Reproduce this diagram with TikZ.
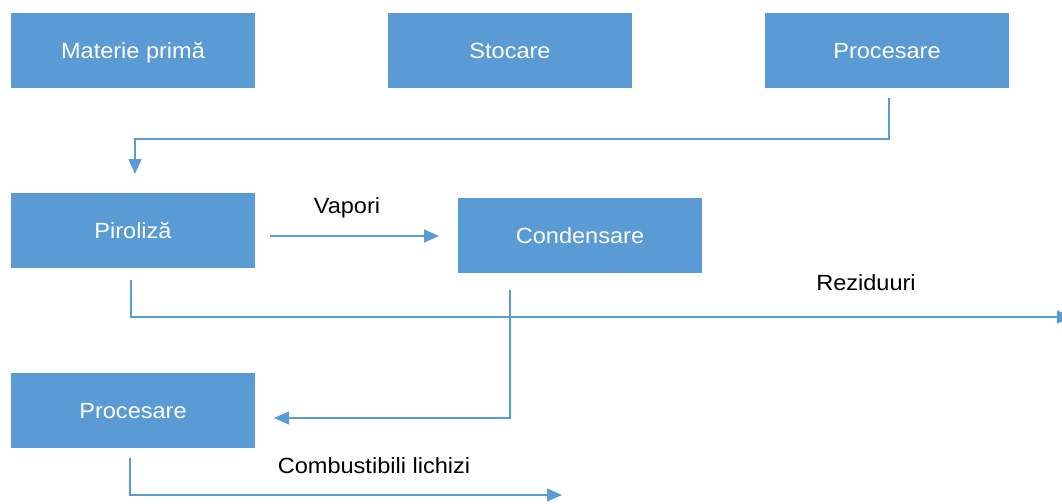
\documentclass[tikz,border=0pt]{standalone}
\usepackage{fontspec}
\setmainfont{Liberation Sans}[FakeStretch=1.07]
\usetikzlibrary{arrows.meta}
\definecolor{boxblue}{HTML}{5B9BD5}
\tikzset{
  box/.style={fill=boxblue, draw=none, minimum width=244pt, minimum height=75pt, inner sep=0pt, text height=16pt, text depth=0pt, text=white, font=\fontsize{22}{26}\selectfont},
  lbl/.style={text=black, inner sep=0pt, text height=16pt, text depth=0pt, font=\fontsize{22}{26}\selectfont},
  conn/.style={draw=boxblue, line width=1.5pt, -{Triangle[length=15pt,width=13pt]}},
}
\begin{document}
\begin{tikzpicture}[x=1pt,y=-1pt]
\useasboundingbox (0,0) rectangle (1062,503);
\clip (0,0) rectangle (1062,503);
\node[box] (mp) at (133,50.5) {Materie primă};
\node[box] (st) at (510,50.5) {Stocare};
\node[box] (pr1) at (887,50.5) {Procesare};
\node[box] (pir) at (133,230.5) {Piroliză};
\node[box] (cond) at (580,235.5) {Condensare};
\node[box] (pr2) at (133,410.5) {Procesare};
\node[lbl] (vap) at (347,205) {Vapori};
\node[lbl] (rez) at (866,282) {Reziduuri};
\node[lbl] (comb) at (374,465) {Combustibili lichizi};
% connectors
\coordinate (a1) at (889,98);
\coordinate (a2) at (135,174);
\draw[conn] (a1) |- (513,139) -| (a2);
\coordinate (v1) at (270,236);
\coordinate (v2) at (439,236);
\draw[conn] (v1) -- (v2);
\coordinate (r1) at (131,280);
\coordinate (r2) at (1072,317);
\draw[conn] (r1) |- (r2);
\coordinate (c1) at (510,290);
\coordinate (c2) at (274,418);
\draw[conn] (c1) |- (c2);
\coordinate (p1) at (130,458);
\coordinate (p2) at (562,495);
\draw[conn] (p1) |- (p2);
\end{tikzpicture}
\end{document}
